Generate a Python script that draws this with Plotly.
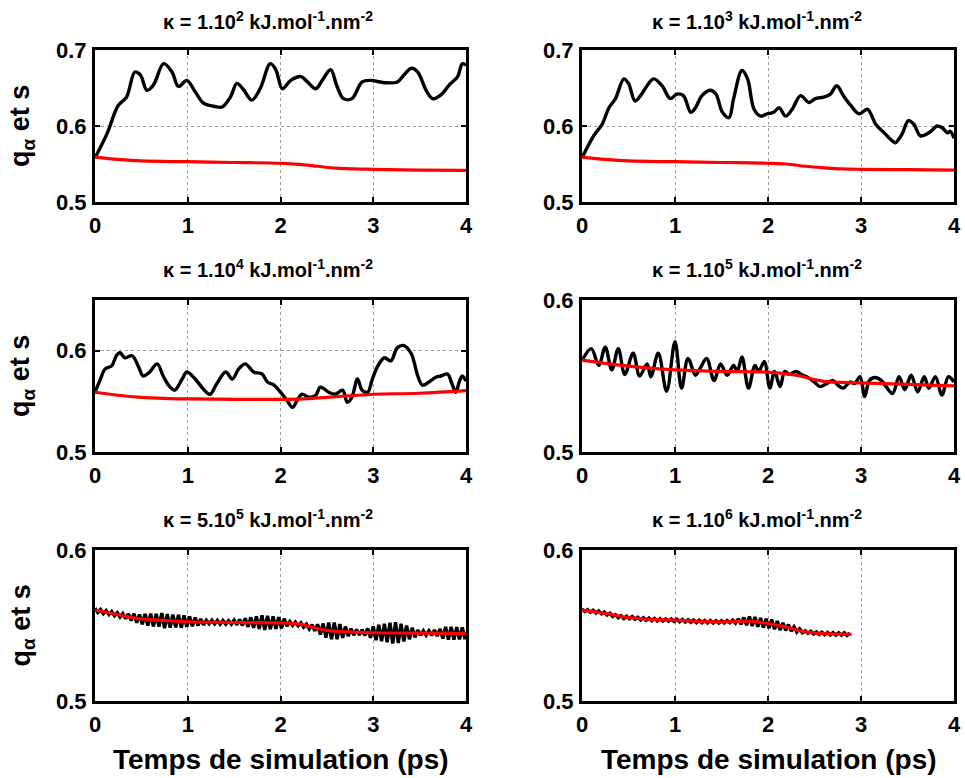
import numpy as np
import plotly.graph_objects as go

# ---------------- data ----------------
# Panel 1 : kappa = 1.10^2
t1_black = [0, 0.13, 0.25, 0.34, 0.43, 0.49, 0.56, 0.63, 0.74, 0.83, 0.90, 0.99, 1.08, 1.17, 1.28, 1.37,
            1.46, 1.53, 1.60, 1.69, 1.78, 1.89, 1.95, 2.02, 2.11, 2.22, 2.29, 2.38, 2.45, 2.54, 2.61, 2.68,
            2.77, 2.88, 2.97, 3.12, 3.26, 3.33, 3.41, 3.48, 3.57, 3.64, 3.73, 3.82, 3.91, 3.96, 4.0]
q1_black = [0.558, 0.590, 0.627, 0.638, 0.671, 0.667, 0.647, 0.654, 0.682, 0.671, 0.652, 0.660, 0.645, 0.630,
            0.626, 0.625, 0.638, 0.656, 0.648, 0.634, 0.649, 0.682, 0.674, 0.649, 0.660, 0.665, 0.658, 0.649,
            0.660, 0.674, 0.652, 0.636, 0.636, 0.658, 0.660, 0.657, 0.658, 0.667, 0.676, 0.671, 0.647, 0.636,
            0.641, 0.654, 0.665, 0.682, 0.680]
t1_red = [0, 0.25, 0.5, 1.0, 1.5, 2.0, 2.2, 2.4, 2.6, 2.8, 3.0, 3.5, 4.0]
s1_red = [0.559, 0.556, 0.554, 0.553, 0.552, 0.551, 0.5495, 0.547, 0.5445, 0.5435, 0.543, 0.542, 0.5415]

# Panel 2 : kappa = 1.10^3
t2_black = [0, 0.125, 0.215, 0.29, 0.36, 0.45, 0.50, 0.57, 0.63, 0.70, 0.77, 0.86, 0.95, 1.02, 1.09, 1.17,
            1.22, 1.29, 1.38, 1.44, 1.51, 1.58, 1.63, 1.72, 1.78, 1.85, 1.92, 1.99, 2.06, 2.12, 2.19, 2.26,
            2.35, 2.44, 2.51, 2.60, 2.67, 2.74, 2.81, 2.89, 2.98, 3.07, 3.16, 3.25, 3.34, 3.37, 3.44, 3.51,
            3.57, 3.64, 3.73, 3.82, 3.87, 3.93, 3.96, 4.0]
q2_black = [0.558, 0.587, 0.602, 0.624, 0.636, 0.662, 0.656, 0.633, 0.640, 0.653, 0.662, 0.653, 0.636, 0.642,
            0.640, 0.618, 0.624, 0.640, 0.647, 0.642, 0.618, 0.611, 0.636, 0.673, 0.662, 0.622, 0.613, 0.616,
            0.618, 0.624, 0.613, 0.622, 0.640, 0.631, 0.636, 0.638, 0.642, 0.653, 0.640, 0.627, 0.616, 0.622,
            0.602, 0.591, 0.580, 0.578, 0.589, 0.607, 0.602, 0.587, 0.591, 0.600, 0.598, 0.591, 0.593, 0.584]
t2_red = [0, 0.25, 0.5, 1.0, 1.5, 2.0, 2.2, 2.4, 2.6, 2.8, 3.0, 3.5, 4.0]
s2_red = [0.559, 0.556, 0.554, 0.553, 0.552, 0.551, 0.550, 0.547, 0.545, 0.5435, 0.543, 0.5425, 0.542]

# Panel 3 : kappa = 1.10^4
t3_black = [0, 0.05, 0.11, 0.18, 0.23, 0.27, 0.32, 0.40, 0.47, 0.52, 0.59, 0.67, 0.74, 0.81, 0.86, 0.94,
            0.99, 1.08, 1.17, 1.24, 1.31, 1.41, 1.48, 1.55, 1.62, 1.71, 1.80, 1.86, 1.93, 2.00, 2.07, 2.13,
            2.18, 2.23, 2.31, 2.38, 2.43, 2.52, 2.59, 2.67, 2.72, 2.77, 2.83, 2.88, 2.94, 2.99, 3.05, 3.12,
            3.19, 3.26, 3.33, 3.41, 3.48, 3.53, 3.60, 3.68, 3.73, 3.80, 3.85, 3.89, 3.93, 3.96, 4.0]
q3_black = [0.559, 0.570, 0.582, 0.585, 0.595, 0.598, 0.593, 0.595, 0.584, 0.575, 0.579, 0.587, 0.574, 0.564,
            0.561, 0.572, 0.579, 0.572, 0.562, 0.557, 0.567, 0.579, 0.572, 0.582, 0.587, 0.579, 0.577, 0.569,
            0.566, 0.559, 0.551, 0.544, 0.551, 0.557, 0.554, 0.556, 0.564, 0.559, 0.557, 0.561, 0.549, 0.554,
            0.572, 0.561, 0.559, 0.572, 0.585, 0.593, 0.590, 0.603, 0.605, 0.597, 0.575, 0.566, 0.569, 0.574,
            0.575, 0.577, 0.567, 0.559, 0.570, 0.575, 0.570]
t3_red = [0, 0.25, 0.5, 0.75, 1.0, 1.5, 2.0, 2.25, 2.5, 2.75, 3.0, 3.5, 4.0]
s3_red = [0.559, 0.556, 0.554, 0.553, 0.5525, 0.552, 0.552, 0.5525, 0.554, 0.5555, 0.557, 0.558, 0.5605]

# Panel 4 : kappa = 1.10^5
t4_black = [0, 0.10, 0.18, 0.25, 0.32, 0.39, 0.46, 0.55, 0.62, 0.70, 0.74, 0.82, 0.91, 1.00, 1.07, 1.14,
            1.22, 1.27, 1.34, 1.42, 1.49, 1.56, 1.63, 1.67, 1.72, 1.79, 1.86, 1.90, 1.96, 2.02, 2.07, 2.13,
            2.18, 2.23, 2.30, 2.36, 2.43, 2.50, 2.56, 2.63, 2.70, 2.75, 2.81, 2.88, 2.93, 2.99, 3.04, 3.09,
            3.15, 3.22, 3.27, 3.34, 3.41, 3.47, 3.54, 3.61, 3.68, 3.73, 3.80, 3.87, 3.94, 4.0]
q4_black = [0.560, 0.568, 0.557, 0.569, 0.554, 0.568, 0.551, 0.565, 0.550, 0.558, 0.5495, 0.565, 0.540, 0.5725,
            0.542, 0.5615, 0.5505, 0.555, 0.5615, 0.547, 0.558, 0.5505, 0.557, 0.553, 0.5625, 0.542, 0.557,
            0.553, 0.5595, 0.542, 0.553, 0.543, 0.553, 0.551, 0.553, 0.551, 0.549, 0.546, 0.543, 0.545, 0.547,
            0.544, 0.542, 0.546, 0.545, 0.5495, 0.5365, 0.547, 0.549, 0.547, 0.543, 0.5385, 0.5495, 0.541,
            0.5505, 0.5395, 0.5495, 0.542, 0.5495, 0.5375, 0.5495, 0.546]
t4_red = [0, 0.5, 1.0, 1.5, 2.0, 2.3, 2.6, 3.0, 3.5, 4.0]
s4_red = [0.5605, 0.5565, 0.554, 0.553, 0.5525, 0.5505, 0.5465, 0.5455, 0.5445, 0.5435]

# Panel 5 : kappa = 5.10^5  (black sampled every 0.03 ps)
t5_black = np.round(np.arange(134) * 0.03, 2)
q5_black = [0.5615, 0.5586, 0.5606, 0.5578, 0.5599, 0.5572, 0.5592, 0.5564, 0.5584, 0.5556,
            0.5579, 0.5545, 0.5577, 0.5533, 0.5578, 0.5519, 0.5573, 0.5508, 0.5576, 0.5499,
            0.5579, 0.5494, 0.5577, 0.5492, 0.5582, 0.5483, 0.5576, 0.5485, 0.5572, 0.5487,
            0.5570, 0.5485, 0.5567, 0.5491, 0.5560, 0.5495, 0.5553, 0.5499, 0.5544, 0.5504,
            0.5535, 0.5511, 0.5534, 0.5510, 0.5534, 0.5509, 0.5533, 0.5509, 0.5532, 0.5508,
            0.5535, 0.5505, 0.5540, 0.5500, 0.5548, 0.5491, 0.5554, 0.5484, 0.5561, 0.5477,
            0.5568, 0.5470, 0.5564, 0.5476, 0.5560, 0.5478, 0.5556, 0.5482, 0.5545, 0.5496,
            0.5526, 0.5500, 0.5523, 0.5498, 0.5518, 0.5489, 0.5509, 0.5477, 0.5506, 0.5464,
            0.5508, 0.5440, 0.5513, 0.5419, 0.5519, 0.5409, 0.5519, 0.5409, 0.5510, 0.5418,
            0.5493, 0.5429, 0.5479, 0.5436, 0.5473, 0.5437, 0.5472, 0.5434, 0.5481, 0.5418,
            0.5494, 0.5403, 0.5505, 0.5396, 0.5512, 0.5389, 0.5518, 0.5381, 0.5521, 0.5384,
            0.5511, 0.5395, 0.5500, 0.5409, 0.5485, 0.5422, 0.5470, 0.5435, 0.5465, 0.5435,
            0.5465, 0.5435, 0.5470, 0.5430, 0.5477, 0.5414, 0.5491, 0.5407, 0.5491, 0.5406,
            0.5490, 0.5408, 0.5488, 0.5408]
t5_red = [0, 0.2, 0.44, 0.7, 1.0, 1.5, 2.0, 2.2, 2.47, 2.7, 3.0, 3.5, 4.0]
s5_red = [0.5603, 0.5578, 0.5548, 0.5535, 0.5525, 0.552, 0.5518, 0.551, 0.547, 0.5458, 0.5452, 0.545, 0.5448]

# Panel 6 : kappa = 1.10^6  (black sampled every 0.03 ps, run ends near 2.9 ps)
t6_black = np.round(np.arange(97) * 0.03, 2)
q6_black = [0.5610, 0.5592, 0.5605, 0.5587, 0.5601, 0.5583, 0.5596, 0.5577, 0.5589, 0.5569,
            0.5581, 0.5560, 0.5572, 0.5552, 0.5565, 0.5547, 0.5562, 0.5545, 0.5559, 0.5541,
            0.5555, 0.5537, 0.5551, 0.5534, 0.5549, 0.5532, 0.5547, 0.5530, 0.5545, 0.5529,
            0.5544, 0.5528, 0.5543, 0.5527, 0.5542, 0.5525, 0.5540, 0.5523, 0.5538, 0.5521,
            0.5536, 0.5519, 0.5535, 0.5518, 0.5533, 0.5517, 0.5533, 0.5516, 0.5532, 0.5516,
            0.5532, 0.5517, 0.5533, 0.5518, 0.5535, 0.5515, 0.5544, 0.5508, 0.5553, 0.5502,
            0.5559, 0.5497, 0.5556, 0.5491, 0.5550, 0.5486, 0.5544, 0.5482, 0.5539, 0.5475,
            0.5529, 0.5470, 0.5518, 0.5467, 0.5506, 0.5463, 0.5491, 0.5457, 0.5477, 0.5452,
            0.5466, 0.5448, 0.5462, 0.5444, 0.5458, 0.5441, 0.5456, 0.5439, 0.5454, 0.5437,
            0.5453, 0.5436, 0.5452, 0.5435, 0.5451, 0.5434, 0.5450]
t6_red = [0, 0.25, 0.5, 0.75, 1.0, 1.5, 1.8, 2.0, 2.2, 2.4, 2.6, 2.9]
s6_red = [0.5602, 0.558, 0.5553, 0.554, 0.5535, 0.5524, 0.5529, 0.5513, 0.549, 0.5458, 0.5447, 0.5442]

kappa_labels = ["1.10<sup>2</sup>", "1.10<sup>3</sup>", "1.10<sup>4</sup>",
                "1.10<sup>5</sup>", "5.10<sup>5</sup>", "1.10<sup>6</sup>"]
x_ticks = [0, 1, 2, 3, 4]
y_ranges = [[0.5, 0.7], [0.5, 0.7], [0.5, 0.65], [0.5, 0.6], [0.5, 0.6], [0.5, 0.6]]
y_ticks = [[0.5, 0.6, 0.7], [0.5, 0.6, 0.7], [0.5, 0.6], [0.5, 0.6], [0.5, 0.6], [0.5, 0.6]]
x_title = "Temps de simulation (ps)"
y_title = "q<sub>α</sub> et s"

blacks = [(t1_black, q1_black), (t2_black, q2_black), (t3_black, q3_black),
          (t4_black, q4_black), (t5_black, q5_black), (t6_black, q6_black)]
reds = [(t1_red, s1_red), (t2_red, s2_red), (t3_red, s3_red),
        (t4_red, s4_red), (t5_red, s5_red), (t6_red, s6_red)]

# ---------------- layout ----------------
W, H = 965, 778
col_px = [(95, 466), (582, 954)]
row_px = [(50, 202), (300, 452), (550, 701)]
FONT = "Liberation Sans, Arial, sans-serif"

fig = go.Figure()
layout = dict(width=W, height=H, margin=dict(l=0, r=0, t=0, b=0),
              paper_bgcolor="white", plot_bgcolor="white", showlegend=False,
              annotations=[])

for k in range(6):
    r, c = divmod(k, 2)
    xa = "x" if k == 0 else f"x{k+1}"
    ya = "y" if k == 0 else f"y{k+1}"
    xkey = "xaxis" if k == 0 else f"xaxis{k+1}"
    ykey = "yaxis" if k == 0 else f"yaxis{k+1}"
    x0, x1 = col_px[c]
    top, bot = row_px[r]
    common = dict(showgrid=True, gridcolor="#a0a0a0", griddash="dot", gridwidth=1,
                  showline=True, linewidth=3, linecolor="black", mirror="ticks",
                  ticks="inside", ticklen=5, tickwidth=2, tickcolor="black",
                  zeroline=False, automargin=False, fixedrange=True,
                  tickfont=dict(family=FONT, size=22, color="black", weight="bold"))
    layout[xkey] = dict(common, domain=[x0 / W, x1 / W], range=[0, 4], tickvals=x_ticks,
                        anchor=ya, ticklabelstandoff=2)
    layout[ykey] = dict(common, domain=[1 - bot / H, 1 - top / H], range=y_ranges[k],
                        tickvals=y_ticks[k], tickformat=".1f", anchor=xa, ticklabelstandoff=1)

    tb, qb = blacks[k]
    shape = "spline" if k < 4 else "linear"
    fig.add_trace(go.Scatter(x=tb, y=qb, mode="lines", xaxis=xa, yaxis=ya,
                             line=dict(color="black", width=3.4, shape=shape), hoverinfo="skip"))
    tr, sr = reds[k]
    fig.add_trace(go.Scatter(x=tr, y=sr, mode="lines", xaxis=xa, yaxis=ya,
                             line=dict(color="#ff0000", width=3.2, shape="spline"), hoverinfo="skip"))

    # panel title
    title_cx = [268, 757][c]
    title_cy = [20, 268, 518][r]
    layout["annotations"].append(dict(
        text=f"κ = {kappa_labels[k]} kJ.mol<sup>-1</sup>.nm<sup>-2</sup>",
        x=title_cx / W, y=1 - title_cy / H, xref="paper", yref="paper",
        xanchor="center", yanchor="middle", showarrow=False,
        font=dict(family=FONT, size=20, color="black", weight="bold")))

    if c == 0:
        layout["annotations"].append(dict(
            text=y_title, x=22 / W, y=1 - (top + bot) / 2 / H, xref="paper", yref="paper",
            xanchor="center", yanchor="middle", textangle=-90, showarrow=False,
            font=dict(family=FONT, size=27, color="black", weight="bold")))
    if r == 2:
        layout["annotations"].append(dict(
            text=x_title, x=[281, 769][c] / W, y=1 - 759 / H, xref="paper", yref="paper",
            xanchor="center", yanchor="middle", showarrow=False,
            font=dict(family=FONT, size=28, color="black", weight="bold")))

fig.update_layout(**layout)
fig.write_html("out.html", config={"displayModeBar": False, "staticPlot": True},
               post_script="document.body.style.margin='0px';document.body.style.overflow='hidden';")
